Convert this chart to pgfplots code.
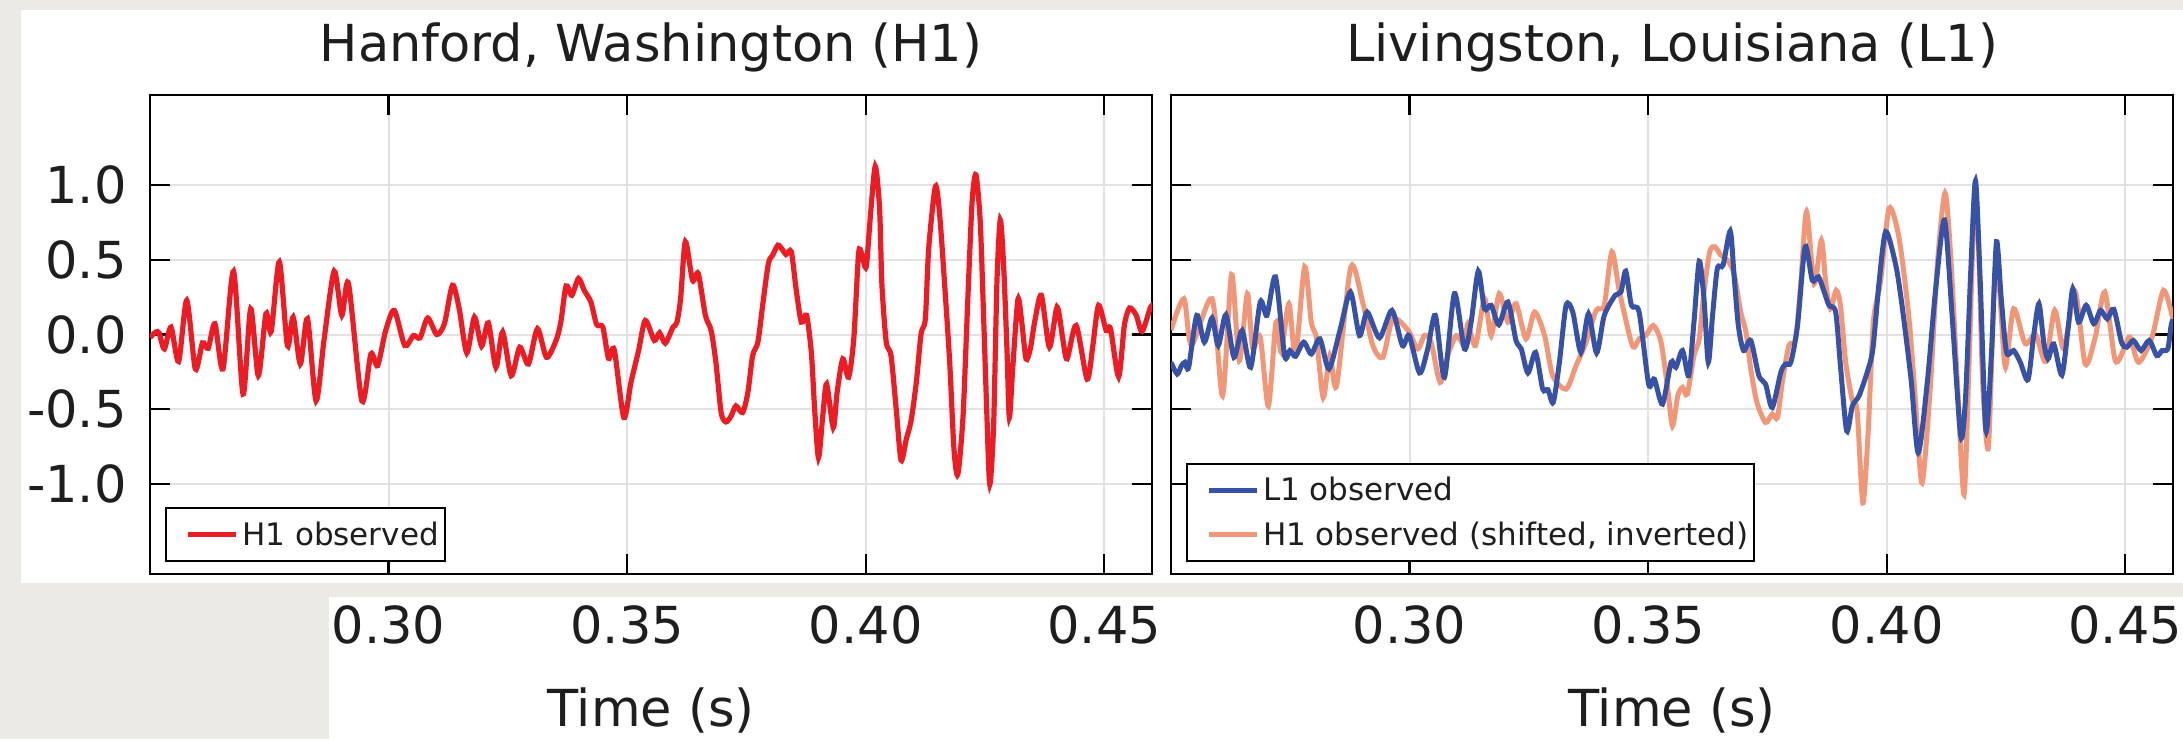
\documentclass[border=0pt]{standalone}
\usepackage{fontspec}
\setmainfont{DejaVu Sans}
\usepackage{pgfplots}
\pgfplotsset{compat=1.18}
\definecolor{bggray}{RGB}{236,234,229}
\definecolor{hred}{RGB}{236,28,36}
\definecolor{lblue}{RGB}{55,82,164}
\definecolor{horange}{RGB}{242,150,120}
\definecolor{gridgray}{RGB}{226,226,226}
\definecolor{txt}{RGB}{30,30,30}
\newcommand{\bigf}{\fontsize{25.5}{30}\selectfont}
\newcommand{\legf}{\fontsize{15.5}{18}\selectfont}
\pgfplotsset{
  myaxis/.style={
    scale only axis, width=501pt, height=239.5pt,
    xmin=0.25, xmax=0.46, ymin=-1.6, ymax=1.6,
    xtick={0.30,0.35,0.40,0.45}, xticklabels={0.30,0.35,0.40,0.45},
    ytick={-1,-0.5,0,0.5,1},
    grid=major, major grid style={gridgray, line width=1pt},
    axis line style={line width=1.1pt, black},
    major tick length=10pt,
    tick style={line width=1.1pt, black},
    tick align=inside,
    xticklabel style={anchor=center, yshift=-25.3pt, font=\bigf, text=txt},
    yticklabel style={anchor=east, inner sep=0pt, xshift=-11.5pt, font=\bigf, text=txt},
    title style={at={(axis description cs:0.5,1)}, anchor=base, yshift=11pt, font=\bigf, text=txt},
    xlabel style={at={(axis description cs:0.5,0)}, anchor=center, yshift=-68pt, font=\bigf, text=txt},
    xlabel={Time (s)},
    legend cell align=left,
    legend style={at={(axis description cs:0,0)}, anchor=south west, xshift=7.5pt, yshift=6pt,
      draw=black, line width=1pt, fill=white, font=\legf, text=txt,
      inner xsep=1pt, inner ysep=4.5pt, row sep=5pt,
      /tikz/every even column/.append style={column sep=7pt}},
    legend image code/.code={\path (-8.5pt,0pt); \draw[#1] (0pt,0pt) -- (24pt,0pt);},
  }
}
\begin{document}
\begin{tikzpicture}
\useasboundingbox (-75pt,-82.5pt) rectangle (1016.5pt,287pt);
\fill[bggray] (-75pt,-82.5pt) rectangle (1016.5pt,287pt);
\fill[white] (-64.5pt,-4.5pt) rectangle (1016.5pt,282pt);
\fill[white] (89.5pt,-82.5pt) rectangle (1016.5pt,-11.5pt);

\begin{axis}[myaxis, at={(0pt,0pt)}, anchor=south west,
  title={Hanford, Washington (H1)},
  yticklabels={-1.0,-0.5,0.0,0.5,1.0}]
\addplot[hred, line width=2.6pt, smooth, tension=0.45] coordinates {
(0.2500,-0.02) (0.2512,0.016) (0.2519,0.011) (0.2530,-0.096) (0.2544,0.049)
(0.2560,-0.18) (0.2577,0.228) (0.2595,-0.23) (0.2610,-0.056) (0.2622,-0.092)
(0.2636,0.072) (0.2653,-0.23) (0.2675,0.423) (0.2695,-0.398) (0.2711,0.172)
(0.2727,-0.275) (0.2743,0.139) (0.2754,0.02) (0.2771,0.485) (0.2788,-0.074)
(0.2800,0.116) (0.2815,-0.197) (0.2830,0.105) (0.2848,-0.443) (0.2865,-0.03)
(0.2886,0.423) (0.2902,0.128) (0.2916,0.34) (0.2944,-0.443) (0.2963,-0.13)
(0.2977,-0.208) (0.2994,0.027) (0.3012,0.161) (0.3034,-0.074) (0.3052,-0.007)
(0.3066,-0.022) (0.3082,0.110) (0.3101,0.0) (0.3117,0.072) (0.3134,0.329)
(0.3148,0.172) (0.3164,-0.123) (0.3180,0.116) (0.3195,-0.078) (0.3209,0.078)
(0.3225,-0.219) (0.3239,0.016) (0.3257,-0.275) (0.3275,-0.085) (0.3293,-0.197)
(0.3312,0.038) (0.3331,-0.152) (0.3351,-0.040) (0.3361,0.083) (0.3372,0.324)
(0.3384,0.262) (0.3398,0.374) (0.3410,0.295) (0.3424,0.217) (0.3436,0.067)
(0.3449,0.049) (0.3461,-0.159) (0.3473,-0.103) (0.3493,-0.555) (0.3508,-0.32)
(0.3524,-0.107) (0.3538,0.094) (0.3557,-0.040) (0.3568,0.011) (0.3580,-0.058)
(0.3596,0.049) (0.3604,0.078) (0.3612,0.239) (0.3622,0.620) (0.3637,0.362)
(0.3649,0.407) (0.3664,0.128) (0.3676,0.027) (0.3686,-0.186) (0.3697,-0.521)
(0.3707,-0.584) (0.3718,-0.544) (0.3728,-0.477) (0.3742,-0.521) (0.3753,-0.387)
(0.3763,-0.141) (0.3774,-0.051) (0.3784,0.195) (0.3796,0.474) (0.3805,0.530)
(0.3816,0.597) (0.3826,0.564) (0.3833,0.535) (0.3844,0.553) (0.3854,0.306)
(0.3865,0.083) (0.3876,0.128) (0.3886,-0.119) (0.3893,-0.499) (0.3901,-0.823)
(0.3910,-0.544) (0.3918,-0.331) (0.3932,-0.622) (0.3940,-0.387) (0.3952,-0.163)
(0.3964,-0.286) (0.3975,-0.029) (0.3985,0.541) (0.3992,0.535) (0.4001,0.452)
(0.4010,0.799) (0.4020,1.123) (0.4029,0.843) (0.4034,0.329) (0.4043,-0.051)
(0.4053,-0.141) (0.4064,-0.50) (0.4074,-0.84) (0.4085,-0.700) (0.4095,-0.577)
(0.4106,-0.320) (0.4116,0.004) (0.4125,0.105) (0.4132,0.575) (0.4146,0.989)
(0.4155,0.799) (0.4166,0.306) (0.4176,-0.186) (0.4185,-0.767) (0.4193,-0.935)
(0.4204,-0.544) (0.4214,0.239) (0.4223,0.888) (0.4231,1.067) (0.4240,0.754)
(0.4247,0.128) (0.4254,-0.544) (0.4260,-1.002) (0.4268,-0.611) (0.4275,0.351)
(0.4282,0.765) (0.4289,0.463) (0.4296,-0.096) (0.4301,-0.555) (0.4308,-0.230)
(0.4319,0.235) (0.4327,0.083) (0.4336,-0.163) (0.4345,-0.096) (0.4354,0.083)
(0.4368,0.262) (0.4385,-0.085) (0.4401,0.183) (0.4413,-0.029) (0.4422,-0.163)
(0.4441,0.060) (0.4464,-0.298) (0.4476,-0.074) (0.4488,0.195) (0.4504,0.027)
(0.4513,0.038) (0.4530,-0.282) (0.4542,0.060) (0.4553,0.177) (0.4567,0.128)
(0.4579,0.020) (0.4597,0.183) (0.4600,0.17)
};
\addlegendentry{H1 observed}
\end{axis}

\begin{axis}[myaxis, at={(510.5pt,0pt)}, anchor=south west,
  title={Livingston, Louisiana (L1)},
  yticklabels={}]
\addlegendimage{lblue, line width=2.5pt}
\addlegendentry{L1 observed}
\addplot[horange, line width=2.5pt, smooth, tension=0.45] coordinates {
(0.2500,0.03) (0.2527,0.239) (0.2543,-0.07) (0.2586,0.239) (0.2608,-0.409)
(0.2627,0.400) (0.2643,-0.175) (0.2660,0.273) (0.2671,-0.09) (0.2687,-0.018)
(0.2704,-0.477) (0.2720,0.083) (0.2731,-0.119) (0.2747,0.206) (0.2761,-0.141)
(0.2780,0.452) (0.2794,0.083) (0.2805,-0.029) (0.2819,-0.421) (0.2833,-0.141)
(0.2847,-0.342) (0.2877,0.452) (0.2902,0.21) (0.2923,-0.074) (0.2944,-0.152)
(0.2965,0.105) (0.2997,0.027) (0.3017,-0.096) (0.3031,-0.007) (0.3045,-0.05)
(0.3064,-0.320) (0.3080,-0.141) (0.3098,-0.007) (0.3115,-0.074) (0.3122,0.072)
(0.3138,-0.074) (0.3157,0.239) (0.3171,-0.007) (0.3188,0.273) (0.3206,0.083)
(0.3223,0.206) (0.3244,-0.029) (0.3262,0.150) (0.3283,-0.007) (0.3300,-0.275)
(0.3328,-0.365) (0.3349,-0.208) (0.3370,-0.051) (0.3391,0.161) (0.3408,0.195)
(0.3424,0.553) (0.3440,0.284) (0.3467,-0.074) (0.3481,-0.029) (0.3495,-0.007)
(0.3511,0.060) (0.3527,-0.051) (0.3541,-0.365) (0.3551,-0.611) (0.3562,-0.409)
(0.3572,-0.353) (0.3582,-0.398) (0.3596,-0.141) (0.3607,-0.029) (0.3617,0.284)
(0.3629,0.553) (0.3640,0.586) (0.3652,0.530) (0.3666,0.497) (0.3680,0.407)
(0.3694,0.150) (0.3705,0.016) (0.3715,-0.230) (0.3728,-0.454) (0.3746,-0.588)
(0.3760,-0.532) (0.3771,-0.555) (0.3781,-0.320) (0.3795,-0.074) (0.3809,-0.029)
(0.3820,0.351) (0.3832,0.821) (0.3848,0.340) (0.3863,0.631) (0.3872,0.351)
(0.3882,0.172) (0.3894,0.295) (0.3903,0.195) (0.3914,-0.186) (0.3928,-0.443)
(0.3938,-0.510) (0.3950,-1.125) (0.3961,-0.655) (0.3972,0.083) (0.3987,0.351)
(0.4005,0.843) (0.4026,0.642) (0.4046,0.128) (0.4060,-0.432) (0.4074,-0.991)
(0.4092,-0.320) (0.4106,0.463) (0.4122,0.944) (0.4134,0.530) (0.4148,-0.320)
(0.4162,-1.069) (0.4173,-0.141) (0.4183,0.799) (0.4192,0.620) (0.4201,-0.320)
(0.4213,-0.756) (0.4224,0.239) (0.4231,0.508) (0.4240,0.128) (0.4249,-0.219)
(0.4266,0.172) (0.4290,-0.06) (0.4312,0.0) (0.4333,-0.18) (0.4352,0.161)
(0.4371,-0.096) (0.4395,0.284) (0.4416,-0.197) (0.4437,-0.018) (0.4457,0.284)
(0.4479,-0.175) (0.4500,-0.074) (0.4510,-0.018) (0.4528,-0.186) (0.4556,-0.018)
(0.4580,0.295) (0.4600,0.10)
};
\addlegendentry{H1 observed (shifted, inverted)}
\addplot[lblue, line width=2.5pt, smooth, tension=0.45, forget plot] coordinates {
(0.2500,-0.186) (0.2513,-0.264) (0.2522,-0.208) (0.2529,-0.186) (0.2537,-0.219)
(0.2554,0.128) (0.2570,-0.051) (0.2586,0.110) (0.2599,-0.074) (0.2615,0.132)
(0.2632,-0.152) (0.2649,0.027) (0.2667,-0.219) (0.2687,0.217) (0.2701,0.128)
(0.2719,0.385) (0.2738,-0.141) (0.2749,-0.107) (0.2761,-0.145) (0.2778,-0.051)
(0.2794,-0.130) (0.2812,-0.029) (0.2831,-0.230) (0.2854,0.027) (0.2876,0.284)
(0.2895,-0.007) (0.2911,0.150) (0.2937,-0.022) (0.2963,0.161) (0.2985,-0.074)
(0.2999,-0.007) (0.3021,-0.257) (0.3038,-0.096) (0.3054,0.128) (0.3073,-0.286)
(0.3094,0.273) (0.3115,-0.096) (0.3129,0.083) (0.3144,0.423) (0.3157,0.172)
(0.3171,0.195) (0.3187,0.065) (0.3206,0.217) (0.3223,-0.040) (0.3234,-0.096)
(0.3248,-0.257) (0.3264,-0.119) (0.3279,-0.365) (0.3290,-0.369) (0.3301,-0.454)
(0.3314,-0.186) (0.3328,0.195) (0.3342,0.150) (0.3359,-0.119) (0.3375,0.139)
(0.3392,-0.123) (0.3408,0.128) (0.3431,0.262) (0.3443,0.284) (0.3453,0.423)
(0.3465,0.195) (0.3481,0.150) (0.3501,-0.331) (0.3513,-0.298) (0.3530,-0.465)
(0.3548,-0.186) (0.3558,-0.219) (0.3572,-0.107) (0.3585,-0.275) (0.3596,0.083)
(0.3607,0.490) (0.3617,0.239) (0.3626,-0.186) (0.3635,0.128) (0.3645,0.441)
(0.3657,0.463) (0.3672,0.691) (0.3680,0.396) (0.3689,0.060) (0.3700,-0.107)
(0.3715,-0.040) (0.3732,-0.275) (0.3746,-0.331) (0.3760,-0.488) (0.3778,-0.253)
(0.3788,-0.197) (0.3799,-0.186) (0.3813,0.060) (0.3829,0.586) (0.3844,0.362)
(0.3857,0.385) (0.3869,0.284) (0.3879,0.195) (0.3893,0.150) (0.3903,-0.208)
(0.3916,-0.644) (0.3928,-0.477) (0.3942,-0.409) (0.3959,-0.253) (0.3971,-0.096)
(0.3984,0.351) (0.3998,0.687) (0.4019,0.463) (0.4032,0.195) (0.4051,-0.30)
(0.4066,-0.79) (0.4085,-0.320) (0.4102,0.284) (0.4121,0.765) (0.4137,0.128)
(0.4155,-0.678) (0.4165,-0.432) (0.4176,0.418) (0.4186,1.027) (0.4196,0.351)
(0.4208,-0.644) (0.4220,-0.096) (0.4230,0.620) (0.4240,0.239) (0.4251,-0.119)
(0.4266,-0.107) (0.4280,-0.186) (0.4296,-0.302) (0.4308,-0.007) (0.4319,0.206)
(0.4329,-0.051) (0.4338,-0.163) (0.4350,-0.063) (0.4367,-0.271) (0.4380,0.038)
(0.4390,0.306) (0.4402,0.083) (0.4418,0.195) (0.4434,0.072) (0.4448,0.161)
(0.4462,0.105) (0.4476,0.168) (0.4492,-0.051) (0.4503,-0.085) (0.4517,-0.040)
(0.4533,-0.107) (0.4550,-0.040) (0.4566,-0.141) (0.4577,-0.107) (0.4589,-0.096)
(0.4596,0.060) (0.4600,0.10)
};
\end{axis}
\end{tikzpicture}
\end{document}
